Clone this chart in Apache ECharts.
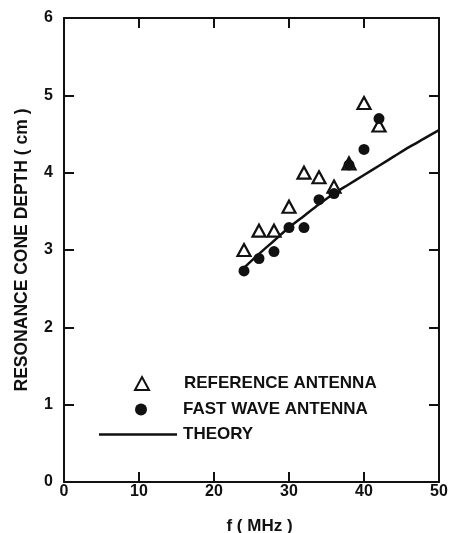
<!DOCTYPE html>
<html>
<head>
<meta charset="utf-8">
<script src="https://cdn.jsdelivr.net/npm/echarts@6/dist/echarts.min.js"></script>
<style>
  html, body { margin: 0; padding: 0; background: #fff; }
  #chart { width: 450px; height: 533px; }
</style>
</head>
<body>
<div id="chart"></div>
<script>
// 频率 (MHz)
const freqs = [24, 26, 28, 30, 32, 34, 36, 38, 40, 42];
// reference antenna (open triangles)
const refDepth = [3.0, 3.25, 3.25, 3.56, 4.0, 3.94, 3.82, 4.12, 4.9, 4.61];
// fast wave antenna (filled dots)
const fastDepth = [2.73, 2.89, 2.98, 3.29, 3.29, 3.65, 3.73, 4.1, 4.3, 4.7];
// theory curve
const theoryF = [24, 26, 28, 30, 32, 34, 36, 38, 40, 42, 44, 46, 48, 50];
const theoryDepth = [2.77, 2.95, 3.12, 3.29, 3.44, 3.59, 3.73, 3.85, 3.97, 4.09, 4.21, 4.33, 4.44, 4.55];

const xTicks = [0, 10, 20, 30, 40, 50];
const yTicks = [0, 1, 2, 3, 4, 5, 6];

const pair = (xs, ys) => xs.map((x, i) => [x, ys[i]]);

const font = "'Liberation Sans', Arial, sans-serif";
const ink = "#111";

const chart = echarts.init(document.getElementById("chart"));

const axisLine = { show: true, onZero: false, lineStyle: { color: ink, width: 2 } };
const axisTick = { show: true, inside: true, length: 10, lineStyle: { color: ink, width: 2 } };

// legend pieces, one per row so each icon can have its own width
const legendRow = (name, top, left, w, h, icon) => ({
  data: [icon ? { name: name, icon: icon } : name],
  orient: "vertical",
  left: left,
  top: top,
  itemWidth: w,
  itemHeight: h,
  selectedMode: false,
  textStyle: {
    fontFamily: font,
    fontSize: 17,
    fontWeight: "bold",
    color: ink,
    padding: [0, 0, 0, 173 - left - w],
  },
});

const option = {
  animation: false,
  backgroundColor: "#fff",
  grid: { left: 64, right: 11, top: 18, bottom: 51, outerBoundsMode: "none" },
  xAxis: [
    {
      type: "value",
      min: 0,
      max: 50,
      interval: 10,
      name: "f ( MHz )",
      nameLocation: "middle",
      nameGap: 36,
      nameTextStyle: { fontFamily: font, fontSize: 17, fontWeight: "bold", color: ink, padding: [0, 0, 0, 16] },
      axisLine: axisLine,
      axisTick: axisTick,
      splitLine: { show: false },
      axisLabel: {
        margin: 2,
        fontFamily: font,
        fontSize: 16,
        fontWeight: "bold",
        color: ink,
        formatter: (v) => (xTicks.includes(v) ? String(v) : ""),
      },
    },
    {
      type: "value",
      position: "top",
      min: 0,
      max: 50,
      interval: 10,
      axisLine: axisLine,
      axisTick: axisTick,
      axisLabel: { show: false },
      splitLine: { show: false },
    },
  ],
  yAxis: [
    {
      type: "value",
      min: 0,
      max: 6,
      interval: 1,
      name: "RESONANCE CONE DEPTH ( cm )",
      nameLocation: "middle",
      nameGap: 28,
      nameTextStyle: { fontFamily: font, fontSize: 17.5, fontWeight: "bold", color: ink, padding: [0, 0, 5, 0] },
      axisLine: axisLine,
      axisTick: axisTick,
      splitLine: { show: false },
      axisLabel: {
        margin: 11,
        fontFamily: font,
        fontSize: 16,
        fontWeight: "bold",
        color: ink,
        formatter: (v) => (yTicks.includes(v) ? String(v) : ""),
      },
    },
    {
      type: "value",
      position: "right",
      min: 0,
      max: 6,
      interval: 1,
      axisLine: axisLine,
      axisTick: axisTick,
      axisLabel: { show: false },
      splitLine: { show: false },
    },
  ],
  legend: [
    legendRow("REFERENCE ANTENNA", 370, 129, 14, 13),
    legendRow("FAST WAVE ANTENNA", 396, 130, 12, 12),
    legendRow("THEORY", 421, 94, 78, 2.5, "rect"),
  ],
  series: [
    {
      name: "THEORY",
      type: "line",
      data: pair(theoryF, theoryDepth),
      smooth: 0.3,
      symbol: "none",
      itemStyle: { color: ink },
      lineStyle: { color: ink, width: 2.5 },
      z: 1,
    },
    {
      name: "REFERENCE ANTENNA",
      type: "scatter",
      data: pair(freqs, refDepth),
      symbol: "triangle",
      symbolSize: [13, 12],
      itemStyle: { color: "#fff", borderColor: ink, borderWidth: 2.2, opacity: 1 },
      z: 3,
    },
    {
      name: "FAST WAVE ANTENNA",
      type: "scatter",
      data: pair(freqs, fastDepth),
      symbol: "circle",
      symbolSize: 11,
      itemStyle: { color: ink, opacity: 1 },
      z: 4,
    },
  ],
};

chart.setOption(option);
</script>
</body>
</html>
